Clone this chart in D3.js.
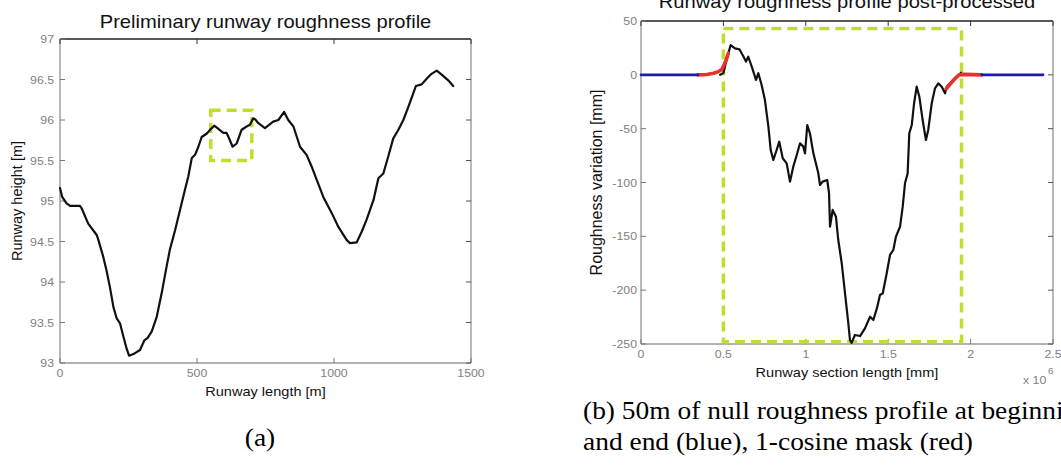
<!DOCTYPE html>
<html>
<head>
<meta charset="utf-8">
<script src="https://cdnjs.cloudflare.com/ajax/libs/d3/7.8.5/d3.min.js"></script>
<style>
  body { margin: 0; background: #fff; }
  svg { display: block; }
  .tick-label { font-family: "Liberation Sans", Arial, sans-serif; font-size: 11px; fill: #808080; }
  .axis-label { font-family: "Liberation Sans", Arial, sans-serif; font-size: 13px; fill: #111; }
  .title { font-family: "Liberation Sans", Arial, sans-serif; font-size: 18px; fill: #111; }
  .caption { font-family: "Liberation Serif", "Times New Roman", serif; font-size: 24.5px; fill: #000; }
</style>
</head>
<body>
<svg id="fig" width="1061" height="470"></svg>
<script>

// (a) preliminary profile: runway length [m] vs runway height [m]
var heightX = [0, 8, 24, 37, 73, 79, 103, 134, 140, 158, 170, 182, 195, 207, 219, 231, 243, 252,
  268, 292, 308, 320, 335, 353, 371, 389, 401, 420, 438, 456, 468, 481, 493, 505, 517, 535,
  554, 563, 578, 596, 608, 615, 630, 645, 663, 681, 693, 705, 712, 724, 748, 778, 797, 818,
  833, 852, 876, 900, 919, 937, 961, 992, 1016, 1046, 1058, 1083, 1101, 1119, 1144, 1162,
  1180, 1198, 1216, 1235, 1253, 1271, 1283, 1299, 1320, 1338, 1356, 1375, 1393, 1417, 1435];
var heightY = [95.16, 95.05, 94.97, 94.94, 94.94, 94.91, 94.72, 94.58, 94.52, 94.31, 94.14, 93.94,
  93.69, 93.55, 93.49, 93.33, 93.18, 93.09, 93.11, 93.16, 93.28, 93.31, 93.39, 93.57, 93.86,
  94.19, 94.40, 94.64, 94.89, 95.14, 95.30, 95.53, 95.57, 95.67, 95.79, 95.83, 95.90, 95.93,
  95.89, 95.84, 95.84, 95.79, 95.67, 95.71, 95.88, 95.92, 95.94, 96.02, 96.01, 95.96, 95.90,
  95.98, 96.00, 96.10, 96.00, 95.92, 95.67, 95.57, 95.42, 95.26, 95.05, 94.85, 94.68, 94.52,
  94.48, 94.49, 94.62, 94.77, 95.01, 95.28, 95.34, 95.55, 95.77, 95.88, 96.00, 96.16, 96.27,
  96.42, 96.44, 96.51, 96.57, 96.61, 96.56, 96.49, 96.42];
var zoomBoxA = [550, 700, 95.5, 96.12];   // x0, x1, y0, y1

// (b) post-processed: section length [x10^6 mm] vs roughness variation [mm]
var roughX = [0.48, 0.50, 0.524, 0.544, 0.57, 0.597, 0.62, 0.637, 0.651, 0.672, 0.698, 0.712,
  0.732, 0.752, 0.773, 0.787, 0.803, 0.823, 0.839, 0.86, 0.884, 0.904, 0.924, 0.945, 0.965,
  0.985, 0.995, 1.009, 1.025, 1.046, 1.076, 1.086, 1.102, 1.13, 1.141, 1.147, 1.163, 1.183,
  1.197, 1.218, 1.238, 1.258, 1.268, 1.278, 1.298, 1.329, 1.359, 1.39, 1.41, 1.434, 1.45,
  1.467, 1.491, 1.511, 1.531, 1.547, 1.572, 1.588, 1.602, 1.618, 1.628, 1.643, 1.657, 1.673,
  1.689, 1.709, 1.729, 1.743, 1.764, 1.784, 1.804, 1.825, 1.845, 1.855, 1.88, 1.905, 1.925, 1.942];
var roughY = [0, 1.6, 16.8, 27.7, 24.6, 23.7, 17.5, 12.3, 16.8, 7.6, -4.8, 1.5, -9.4, -23.4,
  -48.2, -69.8, -79.1, -69.8, -62.1, -77.5, -82.2, -99.2, -85.3, -74.5, -63.6, -66.7, -72.9,
  -46.6, -54.3, -72.9, -91.5, -102.3, -99.2, -97.7, -110, -141, -125.5, -131.8, -153.4, -175,
  -202.9, -230.8, -246.3, -249, -241.6, -242.6, -235.5, -224.7, -227.7, -215.3, -204.5, -202.9,
  -184.3, -167.3, -162.7, -150.3, -141, -122.5, -100.7, -91.5, -54.3, -46.6, -26.4, -11, -20.3,
  -42, -60.5, -51.2, -26.4, -12.5, -7.9, -11, -17.2, -11, -7, -3.3, -0.5, 2];
// 1-cosine mask (red), two ends
var maskStartX = [0.345, 0.40, 0.44, 0.47, 0.49, 0.50, 0.515, 0.53];
var maskStartY = [0, 0.3, 1.5, 3, 5, 8, 13, 20];
var maskEndX = [1.852, 1.88, 1.905, 1.93, 1.96, 2.067];
var maskEndY = [-13, -8, -3.5, 0, 0.4, 0];
// null roughness (blue), two ends
var nullStartX = [0, 0.345];
var nullEndX = [2.067, 2.44];
var zoomBoxB = [0.5, 1.945, -248, 43];

var svg = d3.select("#fig");
var STRETCH = 1.12;  // the source figure is a bit wider than its fonts

function zip(xs, ys) {
  return xs.map(function(x, i) { return [x, ys[i]]; });
}

// horizontal text, stretched like the source image
function label(g, cls, x, y, anchor, str) {
  return g.append("text").attr("class", cls)
    .attr("transform", "translate(" + x + "," + y + ") scale(" + STRETCH + ",1)")
    .attr("text-anchor", anchor)
    .text(str);
}

// draws one MATLAB style axes box with inward ticks on all four sides
function drawAxes(p) {
  var g = svg.append("g");
  var x = p.x, y = p.y;
  var x0 = x.range()[0], x1 = x.range()[1], y0 = y.range()[0], y1 = y.range()[1];

  g.append("line").attr("x1", x0).attr("x2", x1).attr("y1", y1).attr("y2", y1)
    .attr("stroke", "#222").attr("stroke-width", 1.4);
  g.append("line").attr("x1", x0).attr("x2", x1).attr("y1", y0).attr("y2", y0)
    .attr("stroke", "#999").attr("stroke-width", 1.4);
  g.append("line").attr("x1", x0).attr("x2", x0).attr("y1", y0).attr("y2", y1)
    .attr("stroke", "#999").attr("stroke-width", 1.4);
  g.append("line").attr("x1", x1).attr("x2", x1).attr("y1", y0).attr("y2", y1)
    .attr("stroke", "#999").attr("stroke-width", 1.4);

  p.xTicks.forEach(function(t) {
    g.append("line").attr("x1", x(t)).attr("x2", x(t)).attr("y1", y0).attr("y2", y0 - 5)
      .attr("stroke", "#777");
    g.append("line").attr("x1", x(t)).attr("x2", x(t)).attr("y1", y1).attr("y2", y1 + 5)
      .attr("stroke", "#333");
    label(g, "tick-label", x(t), y0 + p.xTickDy, "middle", p.xFormat(t));
  });

  p.yTicks.forEach(function(t) {
    g.append("line").attr("x1", x0).attr("x2", x0 + 5).attr("y1", y(t)).attr("y2", y(t))
      .attr("stroke", "#777");
    g.append("line").attr("x1", x1).attr("x2", x1 - 5).attr("y1", y(t)).attr("y2", y(t))
      .attr("stroke", "#555");
    label(g, "tick-label", x0 - p.yTickDx, y(t) + 4, "end", p.yFormat(t));
  });

  label(g, "title", (x0 + x1) / 2, p.titleY, "middle", p.title);
  label(g, "axis-label", (x0 + x1) / 2, p.xLabelY, "middle", p.xLabel);

  g.append("text").attr("class", "axis-label")
    .style("font-size", p.yLabelSize)
    .attr("transform", "translate(" + p.yLabelX + "," + ((y0 + y1) / 2) + ") rotate(-90)")
    .attr("text-anchor", "middle").text(p.yLabel);

  return g;
}

function drawBox(p, b) {
  svg.append("rect")
    .attr("x", p.x(b[0])).attr("y", p.y(b[3]))
    .attr("width", p.x(b[1]) - p.x(b[0]))
    .attr("height", p.y(b[2]) - p.y(b[3]))
    .attr("fill", "none")
    .attr("stroke", "#bfe02a")
    .attr("stroke-width", 3.5)
    .attr("stroke-dasharray", "10,6");
}

function drawLine(p, pts, color, width) {
  var line = d3.line().x(function(d) { return p.x(d[0]); }).y(function(d) { return p.y(d[1]); });
  svg.append("path")
    .datum(pts)
    .attr("d", line)
    .attr("fill", "none")
    .attr("stroke", color)
    .attr("stroke-width", width)
    .attr("stroke-linejoin", "round")
    .attr("stroke-linecap", "round");
}

// ---- panel (a)
var panelA = {
  x: d3.scaleLinear().domain([0, 1500]).range([60, 471]),
  y: d3.scaleLinear().domain([93, 97]).range([363, 39]),
  xTicks: [0, 500, 1000, 1500],
  yTicks: d3.range(93, 97.01, 0.5),
  xFormat: d3.format("d"),
  yFormat: function(v) { return v % 1 === 0 ? String(v) : v.toFixed(1); },
  xTickDy: 14, yTickDx: 6,
  title: "Preliminary runway roughness profile", titleY: 28,
  xLabel: "Runway length [m]", xLabelY: 396,
  yLabel: "Runway height [m]", yLabelX: 22, yLabelSize: "14.5px"
};
drawAxes(panelA);
drawBox(panelA, zoomBoxA);
drawLine(panelA, zip(heightX, heightY), "#111", 2.2);

// ---- panel (b)
var panelB = {
  x: d3.scaleLinear().domain([0, 2.5]).range([641, 1053]),
  y: d3.scaleLinear().domain([-250, 50]).range([344, 21]),
  xTicks: [0, 0.5, 1, 1.5, 2, 2.5],
  yTicks: d3.range(-250, 51, 50),
  xFormat: function(v) { return String(v); },
  yFormat: function(v) { return String(v); },
  xTickDy: 14, yTickDx: 4,
  title: "Runway roughness profile post-processed", titleY: 8,
  xLabel: "Runway section length [mm]", xLabelY: 377,
  yLabel: "Roughness variation [mm]", yLabelX: 602, yLabelSize: "16px"
};
var gB = drawAxes(panelB);
label(gB, "tick-label", 1023, 384, "start", "x 10");
label(gB, "tick-label", 1048, 374, "start", "6").style("font-size", "9px");

drawBox(panelB, zoomBoxB);
drawLine(panelB, zip(roughX, roughY), "#111", 2.2);
drawLine(panelB, zip(maskStartX, maskStartY), "#e8302c", 3.6);
drawLine(panelB, zip(maskEndX, maskEndY), "#e8302c", 3.6);
drawLine(panelB, nullStartX.map(function(v) { return [v, 0]; }), "#1c1ca8", 2.6);
drawLine(panelB, nullEndX.map(function(v) { return [v, 0]; }), "#1c1ca8", 2.6);

// ---- captions
label(svg, "caption", 260, 446, "middle", "(a)");
label(svg, "caption", 583, 419, "start", "(b) 50m of null roughness profile at beginning");
label(svg, "caption", 583, 450, "start", "and end (blue), 1-cosine mask (red)");

</script>
</body>
</html>
